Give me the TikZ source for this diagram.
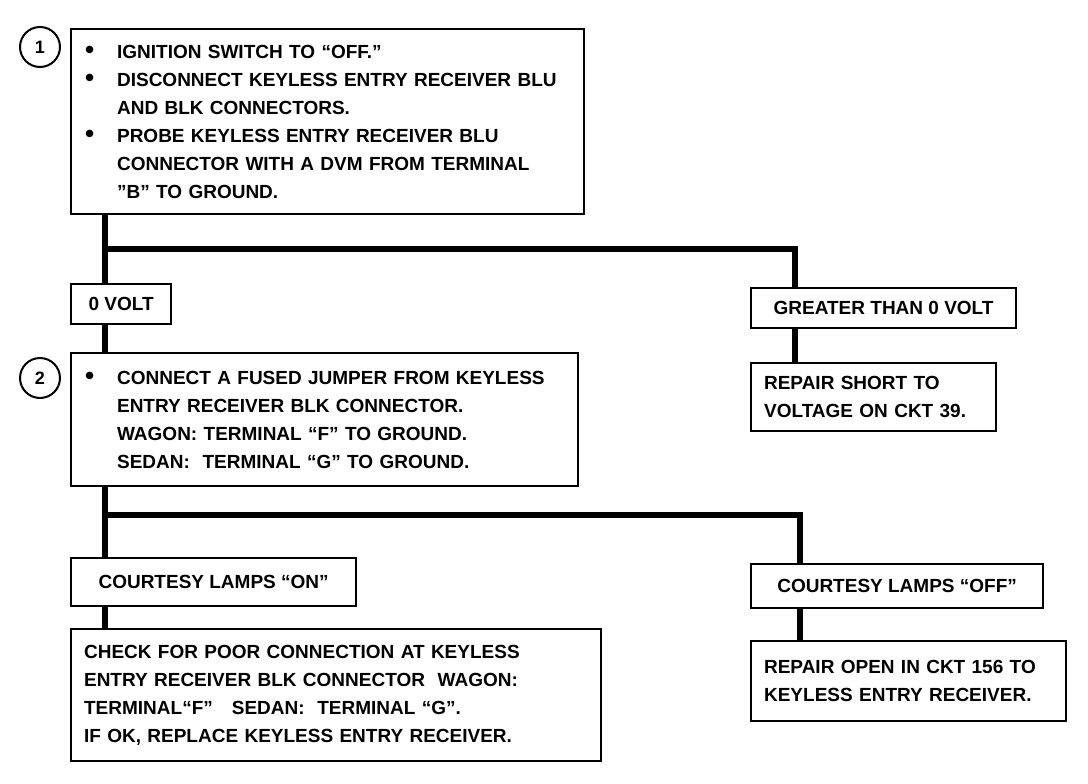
\documentclass[tikz,border=0pt]{standalone}
\usepackage{fontspec}
\setmainfont{Liberation Sans}
\usetikzlibrary{calc}
\newcommand\bx{\fontsize{19}{28}\selectfont\bfseries}
\newcommand\bul{\makebox[33pt][l]{\hspace{1pt}{\fontsize{26}{0}\selectfont •}}}
\newcommand\ind{\hspace*{33pt}}
\tikzset{
  box/.style={draw, line width=2.2pt, anchor=north west, align=left, inner xsep=13pt, inner ysep=0pt, font=\bx},
  cbox/.style={draw, line width=2.2pt, anchor=north west, align=center, inner xsep=0pt, inner ysep=0pt, font=\bx},
  num/.style={draw, circle, line width=2pt, minimum size=40pt, inner sep=0pt, font=\fontsize{18}{18}\selectfont\bfseries},
  conn/.style={line width=6pt}
}
\begin{document}
\begin{tikzpicture}[x=1pt,y=-1pt]
\useasboundingbox (0,0) rectangle (1088,784);
% step numbers
\node[num] (n1) at (40,47) {1};
\node[num] (n2) at (40,378) {2};
% boxes
\node[box, text width=487pt, minimum height=185pt] (b1) at (70,28) {%
\bul IGNITION SWITCH TO “OFF.”\\
\bul DISCONNECT KEYLESS ENTRY RECEIVER BLU\\
\ind AND BLK CONNECTORS.\\
\bul PROBE KEYLESS ENTRY RECEIVER BLU\\
\ind CONNECTOR WITH A DVM FROM TERMINAL\\
\ind ”B” TO GROUND.};
\node[cbox, minimum width=100pt, minimum height=40pt] (v0) at (70,283) {0 VOLT};
\node[cbox, minimum width=265pt, minimum height=40pt] (v1) at (750,287) {GREATER THAN 0 VOLT};
\node[box, text width=219pt, minimum height=68pt] (rs) at (750,362) {REPAIR SHORT TO\\VOLTAGE ON CKT 39.};
\node[box, text width=481pt, minimum height=133pt] (b2) at (70,352) {%
\bul CONNECT A FUSED JUMPER FROM KEYLESS\\
\ind ENTRY RECEIVER BLK CONNECTOR.\\
\ind WAGON: TERMINAL “F” TO GROUND.\\
\ind SEDAN:\ \ TERMINAL “G” TO GROUND.};
\node[cbox, minimum width=285pt, minimum height=48pt] (on) at (70,557) {COURTESY LAMPS “ON”};
\node[cbox, minimum width=292pt, minimum height=44pt] (off) at (750,563) {COURTESY LAMPS “OFF”};
\node[box, text width=504pt, minimum height=132pt] (chk) at (70,628) {%
CHECK FOR POOR CONNECTION AT KEYLESS\\
ENTRY RECEIVER BLK CONNECTOR\ \ WAGON:\\
TERMINAL“F”\ \ \ SEDAN:\ \ TERMINAL “G”.\\
IF OK, REPLACE KEYLESS ENTRY RECEIVER.};
\node[box, text width=289pt, minimum height=80pt] (ro) at (750,640) {REPAIR OPEN IN CKT 156 TO\\KEYLESS ENTRY RECEIVER.};
% connectors
\coordinate (t1) at (105,249);
\coordinate (t2) at (795,249);
\coordinate (t3) at (105,515);
\coordinate (t4) at (800,515);
\draw[conn] (b1.south -| t1) -- (v0.north -| t1);
\draw[conn] (t1) -| (v1.north -| t2);
\draw[conn] (v0.south -| t1) -- (b2.north -| t1);
\draw[conn] (v1.south -| t2) -- (rs.north -| t2);
\draw[conn] (b2.south -| t3) -- (on.north -| t3);
\draw[conn] (t3) -| (off.north -| t4);
\draw[conn] (on.south -| t3) -- (chk.north -| t3);
\draw[conn] (off.south -| t4) -- (ro.north -| t4);
\end{tikzpicture}
\end{document}
